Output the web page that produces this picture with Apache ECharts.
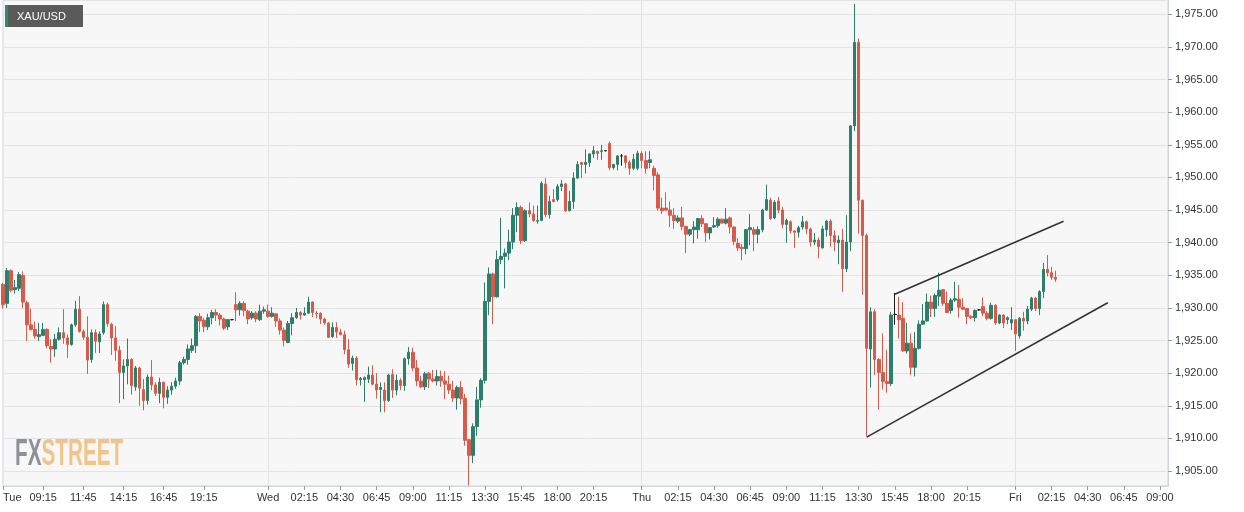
<!DOCTYPE html>
<html>
<head>
<meta charset="utf-8">
<script src="https://cdn.jsdelivr.net/npm/echarts@6/dist/echarts.min.js"></script>
<style>
html,body{margin:0;padding:0;background:#fff;}
#c{width:1244px;height:512px;}
</style>
</head>
<body>
<div id="c"></div>
<script>
// 15-minute candles, XAU/USD
const openV = [1933.6,1930.7,1935.7,1932.8,1933.0,1935.0,1930.8,1927.4,1926.7,1925.6,1925.8,1926.7,1924.1,1923.7,1925.2,1926.2,1925.4,1924.4,1927.4,1929.8,
1926.4,1925.5,1922.1,1926.2,1924.8,1926.2,1930.5,1927.5,1925.4,1923.5,1920.1,1921.1,1922.1,1917.9,1920.8,1917.5,1915.8,1919.4,1918.2,1916.9,
1918.6,1916.3,1917.4,1918.0,1918.8,1921.6,1922.1,1923.5,1924.2,1928.7,1928.1,1927.1,1928.5,1929.3,1928.9,1928.3,1927.1,1928.2,1930.5,1929.7,
1930.7,1929.5,1928.5,1929.2,1928.2,1929.5,1929.5,1928.7,1929.1,1928.0,1926.6,1924.7,1927.6,1928.5,1929.3,1928.9,1929.2,1930.9,1929.2,1929.2,
1928.3,1927.7,1925.6,1927.0,1926.3,1925.9,1923.6,1921.5,1922.3,1919.0,1919.0,1919.1,1919.7,1918.3,1917.5,1917.4,1915.8,1919.8,1917.4,1918.9,
1918.1,1922.2,1923.2,1920.8,1918.8,1917.9,1920.0,1919.1,1918.8,1919.5,1918.8,1918.3,1917.4,1916.2,1917.8,1916.1,1909.8,1907.4,1911.8,1915.9,
1918.9,1931.0,1935.2,1931.7,1937.4,1937.9,1938.4,1940.1,1944.2,1945.4,1940.3,1944.9,1944.4,1943.3,1943.4,1949.0,1944.3,1946.6,1946.6,1948.6,
1949.0,1944.9,1946.3,1949.9,1952.3,1952.0,1952.3,1953.6,1954.0,1954.0,1954.1,1955.2,1951.5,1952.0,1953.3,1953.3,1952.3,1951.4,1951.4,1953.7,
1952.6,1952.3,1951.4,1950.4,1945.3,1945.3,1945.0,1944.2,1943.3,1943.8,1942.5,1941.3,1942.0,1942.0,1943.7,1942.9,1941.5,1942.4,1942.6,1943.6,
1943.0,1943.8,1942.4,1939.9,1939.3,1939.1,1942.0,1942.0,1941.3,1942.0,1945.0,1946.5,1943.8,1946.4,1945.0,1942.8,1943.2,1941.8,1941.6,1942.4,
1943.2,1942.1,1940.1,1940.4,1939.2,1942.0,1943.3,1941.1,1940.0,1940.4,1936.0,1940.1,1957.9,1970.7,1946.5,1941.1,1923.7,1929.4,1922.1,1920.1,
1918.7,1918.4,1929.0,1928.9,1928.4,1923.4,1924.6,1920.9,1923.8,1927.5,1928.0,1930.9,1929.9,1931.8,1932.8,1930.7,1929.6,1931.2,1931.3,1930.1,
1929.9,1928.7,1928.5,1929.7,1930.2,1929.2,1928.4,1930.4,1927.7,1928.9,1928.2,1927.7,1928.2,1925.7,1928.4,1928.0,1929.8,1931.5,1929.9,1932.5,
1935.9,1935.4,1934.7];
const closeV = [1930.5,1935.7,1932.7,1933.1,1935.1,1930.9,1927.4,1926.7,1925.7,1925.9,1926.7,1924.2,1923.7,1925.2,1926.2,1925.4,1924.4,1927.4,1929.8,1926.4,
1925.5,1922.0,1926.2,1924.9,1926.0,1930.5,1927.6,1925.4,1923.5,1920.1,1921.1,1922.1,1918.1,1920.8,1917.7,1915.8,1919.4,1918.2,1916.9,1918.6,
1916.3,1917.4,1918.0,1918.8,1921.6,1922.1,1923.7,1924.2,1928.7,1928.0,1927.1,1928.5,1929.3,1928.9,1928.3,1926.9,1928.2,1928.2,1929.7,1930.7,
1929.6,1928.3,1929.2,1928.3,1929.5,1929.7,1928.7,1929.2,1928.0,1926.6,1925.0,1927.6,1928.5,1929.3,1928.9,1929.2,1930.9,1929.3,1929.1,1928.3,
1927.7,1925.5,1927.0,1926.3,1925.9,1923.6,1921.4,1922.3,1919.0,1919.2,1919.3,1919.7,1918.3,1917.4,1917.8,1915.8,1919.7,1917.4,1918.9,1918.1,
1922.2,1923.2,1920.8,1918.8,1917.9,1919.9,1919.1,1918.8,1919.5,1918.8,1918.3,1917.4,1916.2,1917.8,1916.1,1909.7,1907.4,1911.8,1915.9,1918.9,
1931.0,1935.2,1931.7,1937.4,1937.9,1938.4,1940.1,1944.2,1945.4,1940.3,1944.9,1944.4,1943.4,1943.4,1949.1,1944.3,1946.3,1946.3,1948.6,1949.0,
1944.9,1946.3,1949.9,1952.0,1952.0,1952.3,1953.6,1954.1,1953.7,1954.1,1954.1,1951.5,1952.0,1953.3,1953.3,1952.3,1951.4,1952.8,1953.7,1952.6,
1951.4,1952.7,1950.3,1945.3,1944.9,1945.0,1944.2,1943.4,1943.8,1942.5,1941.3,1942.0,1942.4,1943.7,1942.9,1941.5,1942.3,1942.6,1943.6,1943.0,
1943.6,1942.4,1940.2,1939.2,1939.1,1942.0,1942.3,1941.3,1942.0,1945.0,1946.6,1943.7,1946.2,1945.0,1942.8,1943.4,1941.8,1941.6,1942.3,1943.2,
1942.1,1940.1,1940.4,1939.4,1942.1,1943.3,1941.1,1940.1,1940.4,1936.0,1940.1,1957.9,1970.7,1946.5,1941.1,1923.8,1929.4,1922.1,1920.1,1918.7,
1918.4,1928.9,1929.0,1928.2,1923.4,1924.6,1920.9,1923.8,1927.5,1928.0,1930.9,1929.9,1931.9,1932.7,1930.7,1929.3,1931.2,1931.4,1930.1,1929.8,
1928.7,1928.5,1929.6,1929.7,1929.2,1928.4,1930.4,1927.7,1928.9,1927.7,1928.5,1928.2,1926.0,1928.4,1928.0,1929.8,1931.5,1929.9,1932.5,1935.9,
1935.4,1934.7,1934.4];
const lowV = [1929.9,1930.0,1932.4,1932.2,1932.6,1930.0,1924.9,1926.5,1925.3,1924.9,1925.7,1923.8,1921.6,1922.5,1925.0,1924.5,1922.3,1924.2,1927.1,1926.2,
1925.1,1919.9,1921.6,1923.1,1923.1,1925.9,1927.1,1922.8,1921.9,1915.4,1916.0,1918.3,1916.7,1917.3,1915.0,1914.3,1915.2,1917.4,1916.5,1915.4,
1914.6,1915.3,1916.7,1917.6,1918.2,1921.3,1921.3,1923.1,1923.1,1926.3,1926.3,1926.6,1927.5,1928.0,1927.3,1926.6,1926.6,1928.1,1928.0,1928.8,
1928.7,1927.5,1928.2,1927.8,1928.0,1929.1,1928.5,1928.5,1927.1,1925.9,1924.1,1924.6,1925.8,1928.3,1928.2,1928.8,1929.1,1928.6,1928.4,1927.5,
1927.4,1925.4,1925.4,1925.4,1925.8,1922.9,1920.8,1920.4,1918.1,1918.1,1915.6,1918.5,1918.1,1916.1,1914.0,1914.0,1915.6,1916.2,1916.6,1917.4,
1917.3,1921.3,1920.3,1918.0,1917.7,1917.4,1917.7,1918.6,1918.1,1917.9,1916.0,1916.8,1915.6,1914.4,1915.2,1908.9,1902.8,1906.2,1910.4,1914.7,
1918.4,1928.9,1927.5,1931.6,1936.7,1933.0,1937.3,1939.0,1941.6,1939.8,1940.1,1943.9,1943.2,1942.9,1943.3,1943.9,1943.7,1946.2,1946.3,1947.9,
1944.7,1944.8,1945.2,1949.8,1949.9,1950.6,1951.6,1953.0,1952.7,1952.7,1954.0,1951.1,1951.2,1951.1,1951.8,1951.4,1950.4,1951.1,1951.1,1951.4,
1950.6,1951.4,1948.0,1944.9,1944.4,1944.9,1942.4,1942.1,1943.0,1941.9,1938.4,1941.0,1939.9,1940.6,1942.4,1940.1,1940.5,1942.3,1942.3,1942.9,
1942.8,1941.4,1939.6,1938.7,1937.3,1938.2,1939.6,1938.7,1939.9,1941.6,1944.9,1943.5,1943.6,1944.5,1942.2,1940.0,1941.4,1939.2,1940.8,1942.0,
1941.3,1939.4,1939.6,1937.6,1939.1,1940.9,1939.4,1938.7,1936.7,1932.5,1935.5,1938.7,1957.1,1941.4,1932.0,1910.3,1917.8,1919.7,1914.4,1917.5,
1917.0,1918.0,1927.4,1925.3,1923.3,1923.0,1919.7,1919.5,1923.6,1927.4,1927.9,1928.6,1928.6,1930.3,1930.3,1929.2,1929.1,1930.9,1928.5,1929.7,
1927.5,1928.3,1927.9,1929.6,1928.7,1928.1,1928.2,1927.4,1927.5,1926.9,1927.5,1926.6,1923.4,1925.3,1926.5,1927.5,1929.5,1929.5,1928.9,1931.5,
1934.8,1934.3,1934.0];
const highV = [1933.8,1936.1,1935.9,1934.3,1935.5,1935.6,1931.1,1929.9,1927.9,1927.7,1927.7,1926.9,1925.2,1926.0,1927.0,1929.8,1925.9,1927.6,1931.1,1931.8,
1926.7,1928.7,1926.7,1926.7,1926.4,1931.0,1930.8,1927.7,1927.2,1924.2,1922.1,1925.3,1922.3,1921.1,1921.0,1919.1,1919.8,1922.0,1918.6,1919.3,
1918.7,1918.0,1918.6,1919.3,1921.9,1922.5,1924.4,1925.3,1928.9,1929.2,1928.5,1929.1,1929.7,1929.8,1929.2,1928.5,1928.3,1928.3,1932.4,1931.0,
1931.0,1929.7,1929.5,1929.5,1930.5,1930.2,1930.5,1930.1,1929.2,1928.4,1927.0,1928.0,1929.2,1930.0,1929.5,1930.1,1931.7,1931.0,1929.5,1929.3,
1928.5,1927.8,1927.8,1927.8,1926.8,1926.5,1925.2,1922.7,1922.6,1919.4,1919.5,1921.0,1921.2,1920.0,1918.6,1918.6,1919.9,1920.6,1919.8,1919.2,
1922.4,1924.0,1923.9,1922.0,1919.6,1920.2,1920.2,1920.5,1920.5,1920.4,1920.3,1919.6,1918.8,1918.1,1918.8,1916.8,1909.9,1912.3,1917.9,1919.2,
1933.9,1936.2,1935.4,1938.8,1943.8,1939.1,1942.0,1945.3,1946.2,1945.7,1945.1,1946.2,1945.7,1945.7,1949.4,1949.9,1947.2,1948.2,1949.0,1949.6,
1949.2,1947.9,1950.8,1952.5,1952.4,1954.3,1953.7,1954.8,1954.1,1955.0,1954.2,1955.5,1952.1,1953.4,1953.6,1953.4,1952.6,1953.6,1954.1,1954.0,
1954.0,1954.0,1951.8,1950.8,1946.9,1947.7,1946.3,1945.3,1944.2,1945.5,1942.6,1942.1,1943.3,1943.8,1944.2,1943.0,1942.4,1943.9,1943.9,1943.7,
1945.3,1944.0,1942.5,1940.7,1939.8,1942.1,1944.4,1942.4,1942.5,1945.2,1948.9,1946.9,1946.5,1947.0,1945.5,1943.7,1943.4,1941.9,1942.6,1944.1,
1943.4,1942.3,1941.5,1940.8,1942.6,1943.5,1943.6,1941.9,1941.1,1942.1,1944.2,1958.0,1976.6,1971.3,1946.6,1941.4,1930.1,1929.8,1922.3,1926.1,
1923.6,1929.4,1932.3,1931.7,1930.9,1927.7,1926.1,1926.3,1928.1,1930.6,1932.2,1931.9,1932.2,1935.4,1932.9,1932.5,1931.5,1934.0,1933.5,1931.5,
1929.9,1928.9,1929.8,1929.8,1931.6,1929.5,1930.8,1930.6,1929.0,1929.0,1928.7,1930.1,1928.2,1928.6,1929.4,1930.3,1931.7,1931.7,1932.7,1936.9,
1938.1,1936.3,1935.7];

// x-axis tick labels: category index -> text
const tickIndex = [0,10,20,30,40,50,66,75,84,93,102,111,120,129,138,147,159,168,177,186,195,204,213,222,231,240,252,261,270,279,288];
const tickText = ['Tue','09:15','11:45','14:15','16:45','19:15','Wed','02:15','04:30','06:45','09:00','11:15','13:30','15:45','18:00','20:15',
  'Thu','02:15','04:30','06:45','09:00','11:15','13:30','15:45','18:00','20:15','Fri','02:15','04:30','06:45','09:00'];
const dayIndex = [66,159,252];
const slotCount = 291;

// channel trend lines [categoryIndex, price]
const upperLine = [[222,1932.1],[264,1943.3]];
const lowerLine = [[215,1910.2],[275,1930.8]];

const categories = Array.from({length: slotCount}, (_, i) => String(i));
const labelMap = {};
tickIndex.forEach((ix, k) => { labelMap[ix] = tickText[k]; });
const tickSet = new Set(tickIndex);
const daySet = new Set(dayIndex);
const candles = openV.map((o, i) => [o, closeV[i], lowV[i], highV[i]]);

const chart = echarts.init(document.getElementById('c'), null, {renderer: 'canvas'});
const FONT = '"Liberation Sans", Arial, sans-serif';
chart.setOption({
  animation: false,
  backgroundColor: '#ffffff',
  grid: {left: 0, right: 76, top: 0, bottom: 26, show: true, backgroundColor: '#f7f7f7', borderColor: '#cfd5e3', borderWidth: 1},
  xAxis: {
    type: 'category',
    data: categories,
    boundaryGap: false,
    axisLine: {show: true, lineStyle: {color: '#cfd5e3'}},
    axisTick: {show: true, length: 4, interval: (i) => tickSet.has(i), lineStyle: {color: '#9a9a9a'}},
    axisLabel: {
      interval: (i) => tickSet.has(i),
      formatter: (v) => labelMap[+v] || '',
      color: '#333', fontSize: 11, fontFamily: FONT, margin: 6,
      alignMinLabel: 'left'
    },
    splitLine: {show: true, interval: (i) => daySet.has(i), lineStyle: {color: '#e3e3e3', width: 1}}
  },
  yAxis: {
    type: 'value',
    position: 'right',
    min: 1902.7, max: 1977.2,
    splitNumber: 15, minInterval: 5, maxInterval: 5,
    axisLine: {show: true, lineStyle: {color: '#cfd5e3'}},
    axisTick: {show: true, length: 4, lineStyle: {color: '#9a9a9a'}},
    axisLabel: {
      showMinLabel: false, showMaxLabel: false,
      color: '#333', fontSize: 11, fontFamily: FONT, margin: 7,
      formatter: (v) => v.toLocaleString('en-US', {minimumFractionDigits: 2, maximumFractionDigits: 2})
    },
    splitLine: {show: true, lineStyle: {color: '#e3e3e3', width: 1}}
  },
  series: [
    {
      type: 'candlestick',
      data: candles,
      barWidth: 3,
      itemStyle: {
        color: '#2c7f6b', color0: '#d85a4a',
        borderColor: '#2c7f6b', borderColor0: '#d85a4a',
        borderColorDoji: '#1e1e1e', borderWidth: 1
      }
    },
    {type: 'line', data: upperLine, symbol: 'none', silent: true, lineStyle: {color: '#333', width: 1.6}},
    {type: 'line', data: lowerLine, symbol: 'none', silent: true, lineStyle: {color: '#333', width: 1.6}}
  ],
  graphic: [
    {type: 'rect', left: 5, top: 5, shape: {width: 78, height: 22}, style: {fill: '#5a5a5a'}, z: 100},
    {type: 'rect', left: 5, top: 5, shape: {width: 3, height: 22}, style: {fill: '#2f8a6e'}, z: 101},
    {type: 'text', x: 17, y: 16.5, z: 102, style: {text: 'XAU/USD', fill: '#ffffff', font: '11px ' + FONT, verticalAlign: 'middle'}},
    {type: 'text', x: 15, y: 454.5, scaleX: 0.56, z: 5, silent: true,
      style: {
        text: '{a|FX}{b|STREET}', verticalAlign: 'middle',
        rich: {
          a: {fill: '#8e9197', font: 'bold 37px ' + FONT},
          b: {fill: '#f3c48a', font: 'bold 37px ' + FONT}
        }
      }}
  ]
});
</script>
</body>
</html>
